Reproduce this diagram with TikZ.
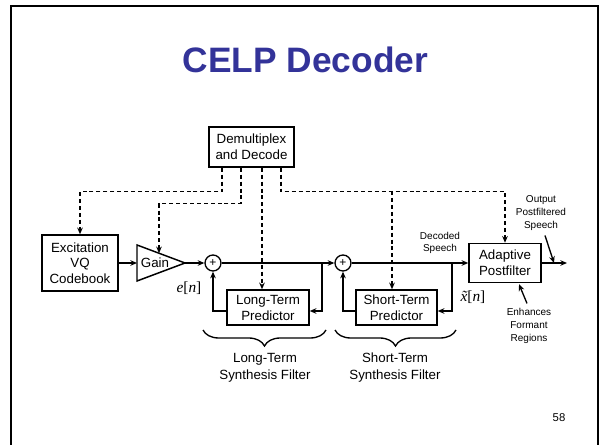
\documentclass[tikz,border=0pt]{standalone}
\usepackage{fontspec}
\setmainfont{Liberation Sans}
\newfontfamily\tmsfont{Liberation Serif}
\usetikzlibrary{arrows.meta,decorations.pathreplacing,calc}
\definecolor{titleblue}{RGB}{51,51,153}
\begin{document}
\begin{tikzpicture}[x=0.75pt,y=-0.75pt,
  blk/.style={draw,line width=1.1pt,align=center,inner sep=0pt,font=\fontsize{10}{12}\selectfont},
  txt/.style={align=center,inner sep=0pt,font=\fontsize{10}{12.75}\selectfont},
  sum/.style={draw,circle,line width=1pt,minimum size=12pt,inner sep=0pt,font=\fontsize{9}{9}\selectfont},
  wire/.style={line width=1pt,-{Stealth[length=5pt,width=4.2pt]}},
  ctrl/.style={wire,dash pattern=on 3pt off 2.2pt},
  note/.style={align=center,inner sep=0pt,font=\fontsize{7.5}{9.5}\selectfont},
  sig/.style={inner sep=0pt,font=\tmsfont\fontsize{11.5}{14}\selectfont},
  brc/.style={line width=1pt,decorate,decoration={brace,amplitude=12pt}}]
\useasboundingbox (0,0) rectangle (600,445);
\draw[line width=1.6pt] (11,445) -- (11,6) -- (598,6) -- (598,445);
\node[font=\fontsize{26.5}{30}\selectfont\bfseries,text=titleblue] (title) at (305.5,60) {CELP Decoder};
% blocks
\node[blk,minimum width=63.75pt,minimum height=30pt] (dm) at (251.5,147) {Demultiplex\\and Decode};
\node[blk,minimum width=57pt,minimum height=42pt,font=\fontsize{10}{11.6}\selectfont] (exc) at (80,263) {Excitation\\VQ\\Codebook};
\coordinate (gtl) at (137,245);
\coordinate (gbl) at (137,281);
\coordinate (gtip) at (185,263);
\coordinate (gin) at (137,263);
\draw[line width=1.1pt] (gtl) -- (gtip) -- (gbl) -- cycle;
\node[txt] (gain) at (155,263) {Gain};
\path (gtl) -- (gtip) coordinate[pos=0.458] (gtop);
\node[sum] (add1) at (213,263) {+};
\node[blk,minimum width=61.5pt,minimum height=26.25pt] (lt) at (268,307.5) {Long-Term\\Predictor};
\node[sum] (add2) at (343,263) {+};
\node[blk,minimum width=60.75pt,minimum height=26.25pt] (st) at (396.5,307.5) {Short-Term\\Predictor};
\node[blk,minimum width=54pt,minimum height=29.25pt] (ap) at (505,263) {Adaptive\\Postfilter};
% signal wires
\draw[wire] (exc) -- (gin);
\draw[wire] (gtip) -- (add1);
\draw[wire] (add1) -- (add2);
\coordinate (b1) at (322,263);
\draw[wire] (b1) |- ($(lt.east)+(0,3.5)$);
\draw[wire] ($(lt.west)+(0,3.5)$) -| (add1.south);
\draw[wire] (add2) -- (ap);
\coordinate (b2) at (452,263);
\draw[wire] (b2) |- ($(st.east)+(0,3.5)$);
\draw[wire] ($(st.west)+(0,3.5)$) -| (add2.south);
\coordinate (out) at (567,263);
\draw[wire] (ap) -- (out);
% control (dashed)
\coordinate (d1) at ($(dm.south)+(-29.5,0)$);
\coordinate (d2) at ($(dm.south)+(-10.5,0)$);
\coordinate (d3) at ($(dm.south)+(10.5,0)$);
\coordinate (d4) at ($(dm.south)+(29.5,0)$);
\draw[ctrl] (d1) -- ++(0,24) -| (exc.north);
\draw[ctrl] (d2) -- ++(0,36) -| (gtop);
\draw[ctrl] (d3) -- (d3 |- lt.north);
\draw[ctrl] (d4) -- ++(0,24) -| (ap.north);
\coordinate (j5) at (392,191);
\draw[ctrl] (j5) -- (j5 |- st.north);
% labels
\node[sig] (en) at (189,288) {\itshape e\upshape[\itshape n\upshape]};
\node[sig] (xn) at (473,297) {\itshape \~{x}\upshape[\itshape n\upshape]};
\node[note] (ds) at (440,243) {Decoded\\Speech};
\node[note] (ops) at (541,213) {Output\\Postfiltered\\Speech};
\node[note] (efr) at (529,326) {Enhances\\Formant\\Regions};
\coordinate (opt) at (554,263);
\draw[wire] ($(ops.south)+(4,5)$) -- (opt);
\draw[wire] ($(efr.north)+(-2,-5)$) -- ($(ap.south)+(14,1)$);
% braces
\coordinate (lb1) at (203,330);
\coordinate (lb2) at (326,330);
\coordinate (sb1) at (335,330);
\coordinate (sb2) at (456,330);
\draw[brc] (lb2) -- (lb1);
\draw[brc] (sb2) -- (sb1);
\node[txt] (ltsf) at (265,367.5) {Long-Term\\Synthesis Filter};
\node[txt] (stsf) at (395,367.5) {Short-Term\\Synthesis Filter};
\node[font=\fontsize{8.5}{10}\selectfont] (pg) at (559,418) {58};
\end{tikzpicture}
\end{document}
